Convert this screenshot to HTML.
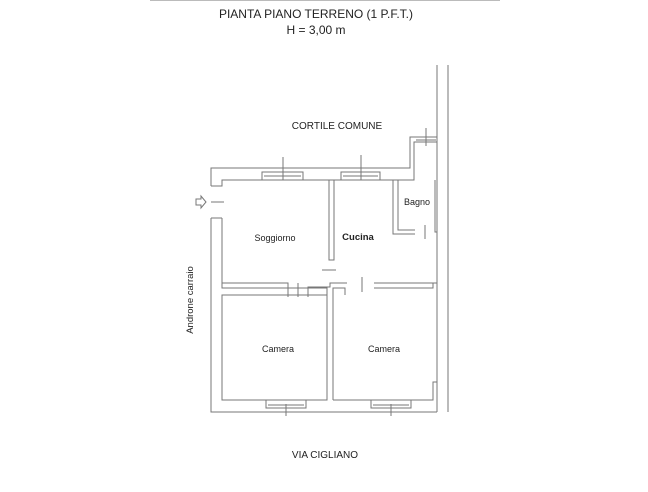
<!DOCTYPE html>
<html><head><style>
html,body{margin:0;padding:0;background:#fff;width:648px;height:492px;overflow:hidden}
svg{display:block}
text{font-family:"Liberation Sans",sans-serif;fill:#222}
</style></head><body>
<svg width="648" height="492" viewBox="0 0 648 492">
<line x1="150" y1="0.5" x2="500" y2="0.5" stroke="#bbb"/>
<text x="316" y="18" font-size="12" text-anchor="middle">PIANTA PIANO TERRENO (1 P.F.T.)</text>
<text x="316" y="34" font-size="12" text-anchor="middle">H = 3,00 m</text>
<text x="337" y="129" font-size="10" text-anchor="middle">CORTILE COMUNE</text>
<text x="325" y="458" font-size="10" text-anchor="middle">VIA CIGLIANO</text>
<text transform="translate(193,300) rotate(-90)" font-size="9.5" text-anchor="middle">Androne carraio</text>
<text x="275" y="241" font-size="9" text-anchor="middle">Soggiorno</text>
<text x="358" y="240" font-size="9.5" font-weight="bold" text-anchor="middle">Cucina</text>
<text x="417" y="205" font-size="9" text-anchor="middle">Bagno</text>
<text x="278" y="352" font-size="9" text-anchor="middle">Camera</text>
<text x="384" y="352" font-size="9" text-anchor="middle">Camera</text>
<g fill="none" stroke="#777" stroke-width="1">
<!-- long right lines -->
<line x1="437" y1="65" x2="437" y2="412"/>
<line x1="448" y1="65" x2="448" y2="412"/>
<!-- outer perimeter -->
<polyline points="211,186 211,168 410,168 410,137 437,137"/>
<polyline points="211,218 211,412 437,412"/>
<polyline points="211,186 222,186 222,180 414,180 414,142 437,142"/>
<polyline points="222,218 222,288 327,288 327,295 222,295 222,400 327,400 327,295"/>
<line x1="211" y1="218" x2="222" y2="218"/>
<!-- right inner -->
<polyline points="435,180 435,232 437,232"/>
<polyline points="333,400 433,400 433,382 437,382"/>
<polyline points="333,400 333,288 345,288 345,295"/>
<!-- soggiorno/cucina partition -->
<polyline points="329,180 329,260 334,260 334,180"/>
<line x1="322" y1="270" x2="336" y2="270"/>
<!-- horizontal partition upper -->
<polyline points="222,283 288,283 288,297"/>
<polyline points="308,297 308,287 330,287 330,283 347,283"/>
<polyline points="374,283 437,283"/>
<polyline points="374,288 433,288 433,283"/>
<line x1="298" y1="283" x2="298" y2="297"/>
<line x1="362" y1="277" x2="362" y2="292"/>
<!-- bagno -->
<polyline points="393,180 393,234 415,234"/>
<polyline points="398,180 398,230 415,230"/>
<line x1="425" y1="225" x2="425" y2="239"/>
<!-- windows top -->
<rect x="262" y="172" width="41" height="8"/>
<line x1="264" y1="176" x2="301" y2="176"/>
<line x1="283" y1="157" x2="283" y2="180"/>
<rect x="341" y="172" width="39" height="8"/>
<line x1="343" y1="176" x2="378" y2="176"/>
<line x1="361" y1="155" x2="361" y2="180"/>
<line x1="426" y1="128" x2="426" y2="146"/>
<line x1="416" y1="140" x2="436" y2="140"/>
<!-- windows bottom -->
<rect x="266" y="400" width="40" height="8"/>
<line x1="268" y1="405" x2="304" y2="405"/>
<line x1="286" y1="404" x2="286" y2="416"/>
<rect x="371" y="400" width="40" height="8"/>
<line x1="373" y1="405" x2="409" y2="405"/>
<line x1="391" y1="404" x2="391" y2="416"/>
<!-- entrance -->
<line x1="211" y1="202" x2="224" y2="202"/>
<path d="M196,199 h5 v-3 l5,6 l-5,6 v-3 h-5 z"/>
</g>
</svg>
</body></html>
